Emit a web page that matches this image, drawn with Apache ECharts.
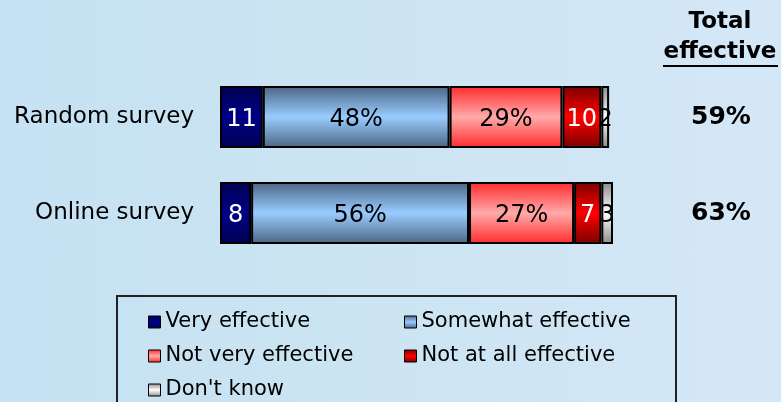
<!DOCTYPE html>
<html>
<head>
<meta charset="utf-8">
<script src="https://cdn.jsdelivr.net/npm/echarts@6/dist/echarts.min.js"></script>
<style>
  html, body { margin: 0; padding: 0; }
  body { background: linear-gradient(to right, #c5e1f3, #cbe4f2 40%, #d4e7f7); }
  #chart { width: 781px; height: 402px; }
</style>
</head>
<body>
<div id="chart"></div>
<script>
// Survey groups, top to bottom
const categories = ['Random survey', 'Online survey'];
// Response shares (%) per group
const veryEffective = [11, 8];
const somewhatEffective = [48, 56];
const notVeryEffective = [29, 27];
const notAtAllEffective = [10, 7];
const dontKnow = [2, 3];
// "Total effective" column
const totalEffective = ['59%', '63%'];

const FONT = '"DejaVu Sans", Verdana, sans-serif';

function grad(edge, mid) {
  return new echarts.graphic.LinearGradient(0, 0, 0, 1, [
    { offset: 0, color: edge },
    { offset: 0.5, color: mid },
    { offset: 1, color: edge }
  ]);
}

function seg(name, data, edge, mid, labelColor, withPct) {
  return {
    name: name,
    type: 'bar',
    stack: 'all',
    data: data,
    barWidth: 62,
    itemStyle: { color: grad(edge, mid), borderColor: '#000', borderWidth: 2 },
    label: {
      show: true,
      position: 'inside',
      offset: [0, 3],
      color: labelColor,
      fontFamily: FONT,
      fontSize: 24,
      formatter: withPct ? '{c}%' : '{c}'
    }
  };
}

const legendCommon = {
  orient: 'vertical', top: 311, padding: 0,
  icon: 'rect', itemWidth: 12, itemHeight: 12, itemGap: 12,
  itemStyle: { borderColor: '#000', borderWidth: 1 },
  textStyle: { color: '#000', fontFamily: FONT, fontSize: 21, lineHeight: 22 }
};

const chart = echarts.init(document.getElementById('chart'));
chart.setOption({
  animation: false,
  grid: { left: 220, top: 69, width: 393, height: 192 },
  xAxis: { type: 'value', min: 0, max: 101, show: false },
  yAxis: [
    {
      type: 'category',
      data: categories,
      inverse: true,
      axisLine: { show: false },
      axisTick: { show: false },
      axisLabel: { margin: 26, padding: [6, 0, 0, 0], color: '#000', fontFamily: FONT, fontSize: 23 }
    },
    {
      type: 'category',
      data: totalEffective,
      inverse: true,
      position: 'right',
      axisLine: { show: false },
      axisTick: { show: false },
      axisLabel: { margin: 108, padding: [4, 0, 0, 0], align: 'center', color: '#000', fontFamily: FONT, fontSize: 25, fontWeight: 'bold' }
    }
  ],
  legend: [
    Object.assign({ data: ['Very effective', 'Not very effective', "Don't know"], left: 148 }, legendCommon),
    Object.assign({ data: ['Somewhat effective', 'Not at all effective'], left: 404 }, legendCommon)
  ],
  graphic: [
    { type: 'rect', shape: { x: 117, y: 296, width: 559, height: 130 }, style: { fill: 'none', stroke: '#222', lineWidth: 2 }, silent: true },
    { type: 'text', x: 720, y: 22, style: { text: 'Total', font: 'bold 23px ' + FONT, fill: '#000', align: 'center', verticalAlign: 'middle' } },
    { type: 'text', x: 720, y: 52, style: { text: 'effective', font: 'bold 23px ' + FONT, fill: '#000', align: 'center', verticalAlign: 'middle' } },
    { type: 'line', shape: { x1: 663, y1: 66, x2: 778, y2: 66 }, style: { stroke: '#000', lineWidth: 2 } }
  ],
  series: [
    seg('Very effective', veryEffective, '#000050', '#000088', '#fff', false),
    seg('Somewhat effective', somewhatEffective, '#4a6583', '#99ccff', '#000', true),
    seg('Not very effective', notVeryEffective, '#ff2a2a', '#ffaaaa', '#000', true),
    seg('Not at all effective', notAtAllEffective, '#7a0000', '#ff0000', '#fff', false),
    seg("Don't know", dontKnow, '#8a8a8a', '#ffffff', '#000', false)
  ]
});
</script>
</body>
</html>
